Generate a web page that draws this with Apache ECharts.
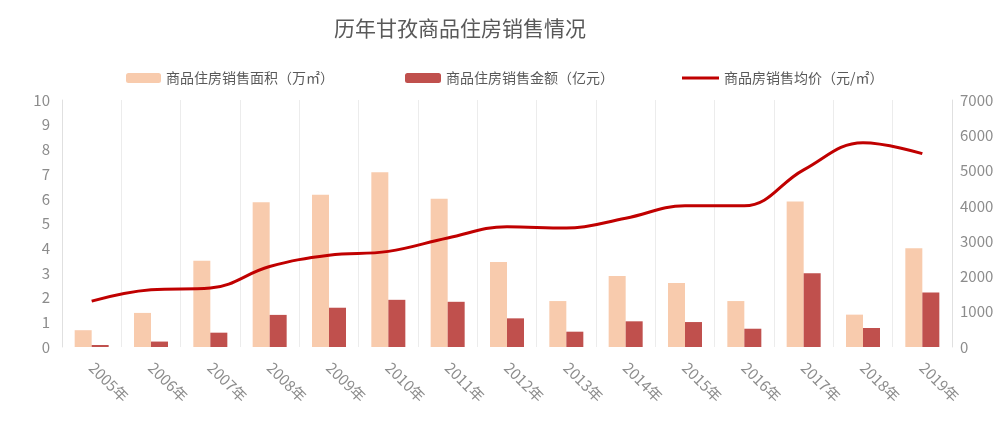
<!DOCTYPE html>
<html>
<head>
<meta charset="utf-8">
<script src="https://cdn.jsdelivr.net/npm/echarts@6/dist/echarts.min.js"></script>
<style>
html,body{margin:0;padding:0;background:#fff;}
#c{width:1000px;height:424px;}
</style>
</head>
<body>
<div id="c"></div>
<script>
const categories = ['2005年','2006年','2007年','2008年','2009年','2010年','2011年','2012年','2013年','2014年','2015年','2016年','2017年','2018年','2019年'];
const areaValues = [0.68,1.38,3.49,5.86,6.16,7.07,6.0,3.44,1.86,2.87,2.59,1.86,5.89,1.31,4.0];
const amountValues = [0.08,0.22,0.58,1.30,1.59,1.91,1.83,1.16,0.62,1.04,1.01,0.74,2.99,0.77,2.21];
const priceValues = [1300,1620,1670,2280,2600,2710,3090,3410,3370,3650,4000,4000,5020,5790,5480];
const leftTicks = [0,10,1];
const rightTicks = [0,7000,1000];
const names = ['商品住房销售面积（万㎡）','商品住房销售金额（亿元）','商品房销售均价（元/㎡）'];

const FONT = '"Noto Sans CJK SC", "Noto Sans", sans-serif';
const chart = echarts.init(document.getElementById('c'), null, {renderer:'canvas'});
const legendText = {color:'#595959', fontSize:14, fontFamily:FONT};
chart.setOption({
  animation:false,
  textStyle:{fontFamily:FONT},
  title:{text:'历年甘孜商品住房销售情况', left:329, top:13,
    textStyle:{color:'#595959', fontSize:21, fontWeight:'normal', fontFamily:FONT}},
  legend:[
    {data:[names[0]], left:121, top:66, itemWidth:35, itemHeight:10, textStyle:legendText},
    {data:[names[1]], left:400, top:66, itemWidth:36, itemHeight:10, textStyle:legendText},
    {data:[{name:names[2], icon:'rect'}], left:677, top:66, itemWidth:37, itemHeight:3, textStyle:legendText}
  ],
  grid:{left:62, right:48, top:100, bottom:77},
  xAxis:{type:'category', data:categories,
    axisLine:{show:false}, axisTick:{show:false},
    splitLine:{show:true, lineStyle:{color:'#ececec', width:1}},
    axisLabel:{rotate:-45, color:'#8c8c8c', fontSize:15, margin:18, interval:0, fontFamily:FONT}},
  yAxis:[
    {type:'value', min:leftTicks[0], max:leftTicks[1], interval:leftTicks[2],
      axisLine:{show:true, lineStyle:{color:'#e0e0e0'}}, axisTick:{show:false},
      splitLine:{show:false},
      axisLabel:{color:'#8c8c8c', fontSize:15, margin:12, fontFamily:FONT}},
    {type:'value', min:rightTicks[0], max:rightTicks[1], interval:rightTicks[2],
      axisLine:{show:true, lineStyle:{color:'#e0e0e0'}}, axisTick:{show:false},
      splitLine:{show:false},
      axisLabel:{color:'#8c8c8c', fontSize:15, margin:8, fontFamily:FONT, formatter:(v)=>String(v)}}
  ],
  series:[
    {name:names[0], type:'bar', data:areaValues, barWidth:17, barGap:'0%',
      itemStyle:{color:'#f8cbad'}},
    {name:names[1], type:'bar', data:amountValues, barWidth:17,
      itemStyle:{color:'#c0504d'}},
    {name:names[2], type:'line', yAxisIndex:1, data:priceValues, smooth:0.4,
      symbol:'none', lineStyle:{color:'#c00000', width:3}, itemStyle:{color:'#c00000'}}
  ]
});
</script>
</body>
</html>
